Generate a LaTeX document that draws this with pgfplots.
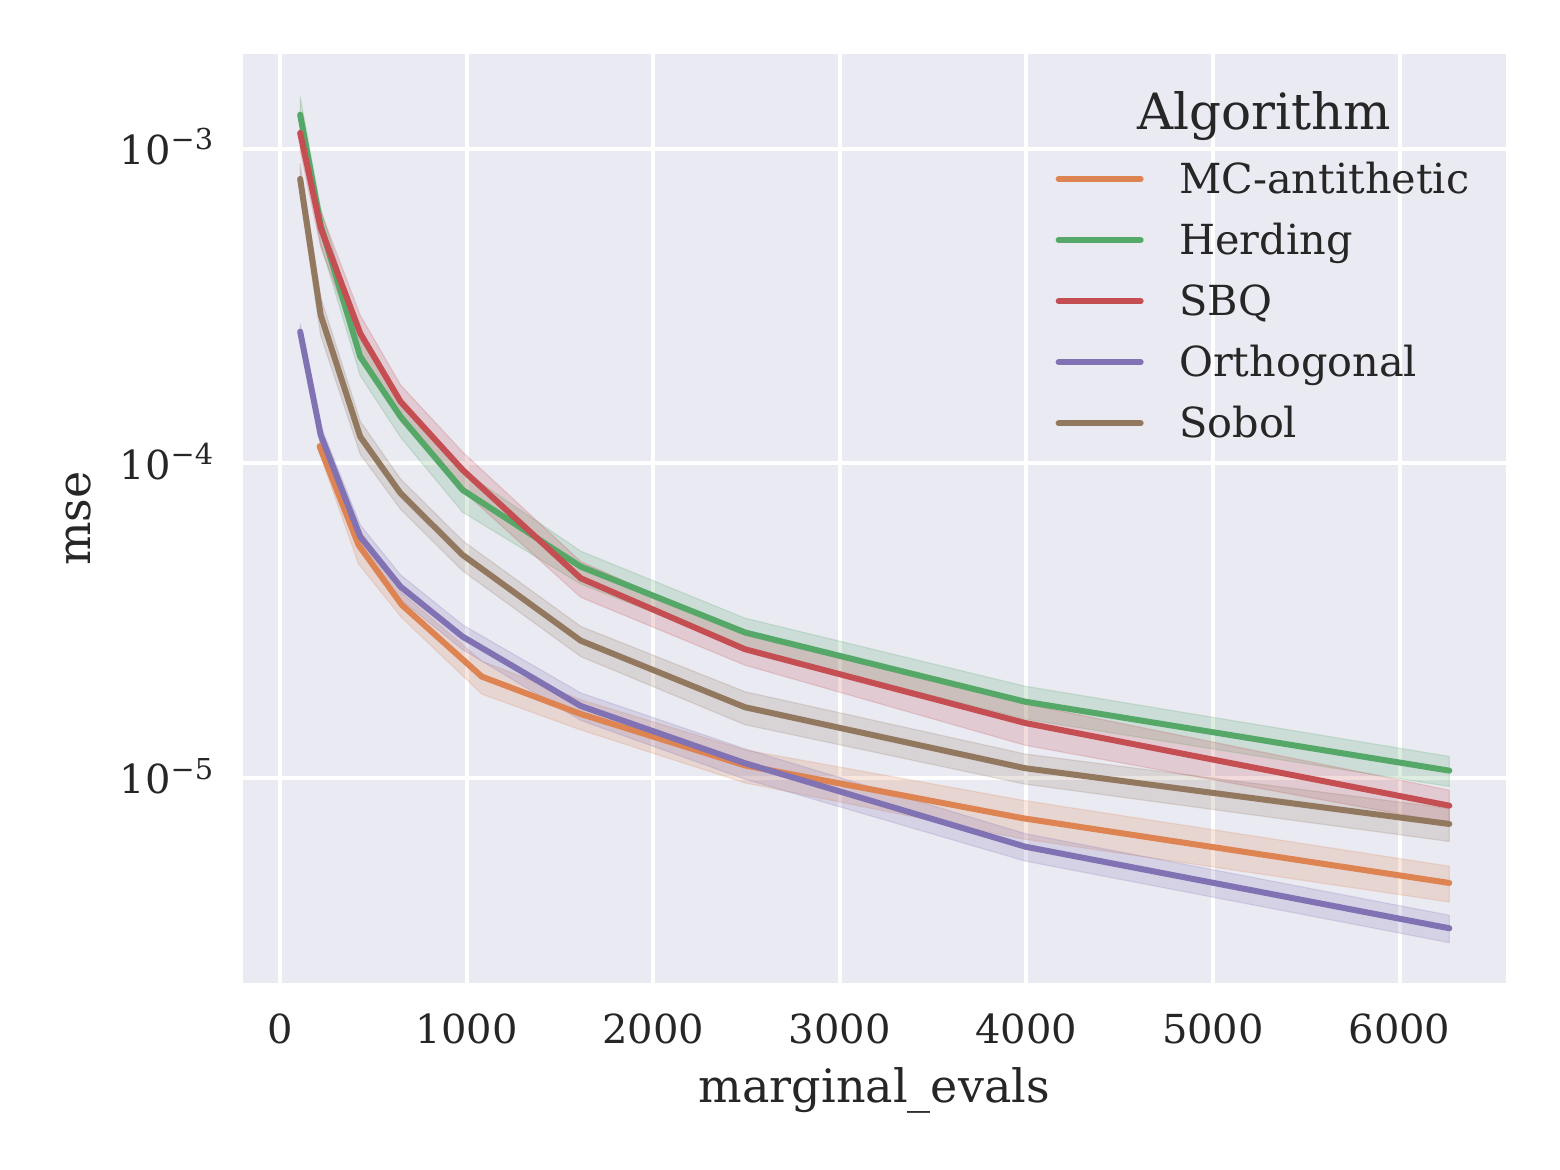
\documentclass[border=0pt]{standalone}
\usepackage{fontspec}
\setmainfont{DejaVu Serif}
\usepackage{pgfplots}
\pgfplotsset{compat=1.18}
\usepackage{pgfplotstable}
\usepgfplotslibrary{fillbetween}
\definecolor{bg}{HTML}{EAEAF2}
\definecolor{txt}{HTML}{262626}
\definecolor{cO}{HTML}{DD8452}
\definecolor{cG}{HTML}{55A868}
\definecolor{cR}{HTML}{C44E52}
\definecolor{cP}{HTML}{8172B3}
\definecolor{cB}{HTML}{937860}

\pgfplotstableread{
x y lo hi
211 1.134e-4 1.077e-4 1.191e-4
420 5.510e-5 4.794e-5 6.226e-5
652 3.554e-5 3.234e-5 3.874e-5
1081 2.104e-5 1.852e-5 2.356e-5
1611 1.601e-5 1.425e-5 1.777e-5
2492 1.099e-5 9.671e-6 1.231e-5
3983 7.468e-6 6.422e-6 8.514e-6
6267 4.654e-6 4.049e-6 5.259e-6
}\tO

\pgfplotstableread{
x y lo hi
107 1.281e-3 1.102e-3 1.460e-3
217 5.719e-4 4.976e-4 6.462e-4
429 2.184e-4 1.900e-4 2.468e-4
645 1.408e-4 1.211e-4 1.605e-4
978 8.237e-5 7.001e-5 9.473e-5
1611 4.703e-5 4.139e-5 5.267e-5
2492 2.906e-5 2.586e-5 3.226e-5
3993 1.752e-5 1.542e-5 1.962e-5
6267 1.058e-5 9.416e-6 1.174e-5
}\tG

\pgfplotstableread{
x y lo hi
107 1.121e-3 9.865e-4 1.256e-3
217 5.596e-4 4.869e-4 6.323e-4
429 2.591e-4 2.228e-4 2.954e-4
645 1.572e-4 1.368e-4 1.776e-4
978 9.537e-5 8.202e-5 1.087e-4
1611 4.319e-5 3.758e-5 4.880e-5
2492 2.570e-5 2.287e-5 2.853e-5
3993 1.499e-5 1.274e-5 1.724e-5
6267 8.190e-6 7.207e-6 9.173e-6
}\tR

\pgfplotstableread{
x y lo hi
107 2.621e-4 2.464e-4 2.778e-4
217 1.232e-4 1.146e-4 1.318e-4
429 5.854e-5 5.327e-5 6.381e-5
645 4.062e-5 3.696e-5 4.428e-5
978 2.818e-5 2.564e-5 3.072e-5
1611 1.698e-5 1.528e-5 1.868e-5
2492 1.117e-5 9.941e-6 1.240e-5
3993 6.070e-6 5.463e-6 6.677e-6
6267 3.342e-6 3.008e-6 3.676e-6
}\tP

\pgfplotstableread{
x y lo hi
107 8.008e-4 7.047e-4 8.969e-4
217 2.962e-4 2.547e-4 3.377e-4
429 1.216e-4 1.070e-4 1.362e-4
645 8.043e-5 7.158e-5 8.928e-5
978 5.122e-5 4.559e-5 5.685e-5
1611 2.737e-5 2.436e-5 3.038e-5
2492 1.682e-5 1.480e-5 1.884e-5
3993 1.077e-5 9.585e-6 1.195e-5
6267 7.164e-6 6.304e-6 8.024e-6
}\tB

\newcommand{\sexp}[1]{10\raisebox{3.7pt}{\fontsize{7.2}{8}\selectfont −#1}}

\begin{document}
\begin{tikzpicture}
\begin{axis}[
  scale only axis, width=315.825pt, height=232.325pt,
  xmin=-201, xmax=6571,
  ymode=log, ymin=2.235e-6, ymax=1.997e-3,
  no markers,
  axis background/.style={fill=bg},
  axis line style={draw=none},
  major tick length=0pt, minor tick length=0pt,
  grid=major, grid style={white, line width=1pt},
  xtick={0,1000,2000,3000,4000,5000,6000},
  xticklabels={0,1000,2000,3000,4000,5000,6000},
  ytick={1e-5,1e-4,1e-3}, minor ytick={},
  yticklabels={{\sexp{5}},{\sexp{4}},{\sexp{3}}},
  x tick label style={font=\fontsize{10}{12}\selectfont, text=txt, inner sep=0pt, anchor=base, yshift=-15pt},
  y tick label style={font=\fontsize{10}{12}\selectfont, text=txt, inner sep=0pt, anchor=base east, xshift=-7.2pt, yshift=-3.9pt},
  xlabel={marginal\_evals},
  ylabel={mse},
  xlabel style={at={([yshift=-29.9pt]axis description cs:0.5,0)}, anchor=base, font=\fontsize{11.5}{14}\selectfont, text=txt, inner sep=0pt},
  ylabel style={at={([xshift=-38.1pt]axis description cs:0,0.5)}, anchor=base, font=\fontsize{11.5}{14}\selectfont, text=txt, inner sep=0pt},
  legend cell align=left,
  legend style={at={(0.6435,0.8810)}, anchor=north west, draw=none, fill=none,
    inner sep=0pt, outer sep=0pt, font=\fontsize{10.35}{12}\selectfont, text=txt,
    row sep=8.07pt, column sep=8.9pt,
    nodes={inner sep=0pt, text height=7.2pt, text depth=0pt}},
  legend image code/.code={\draw[#1, line cap=round] (0pt,0pt) -- (20.5pt,0pt);},
]
% bands
\addplot[draw=none, name path=oU, forget plot] table[x=x, y=hi] {\tO};
\addplot[draw=none, name path=oL, forget plot] table[x=x, y=lo] {\tO};
\addplot[fill=cO, fill opacity=0.2, draw=cO, draw opacity=0.2, line width=0.3pt, forget plot] fill between[of=oU and oL];
\addplot[draw=none, name path=gU, forget plot] table[x=x, y=hi] {\tG};
\addplot[draw=none, name path=gL, forget plot] table[x=x, y=lo] {\tG};
\addplot[fill=cG, fill opacity=0.2, draw=cG, draw opacity=0.2, line width=0.3pt, forget plot] fill between[of=gU and gL];
\addplot[draw=none, name path=rU, forget plot] table[x=x, y=hi] {\tR};
\addplot[draw=none, name path=rL, forget plot] table[x=x, y=lo] {\tR};
\addplot[fill=cR, fill opacity=0.2, draw=cR, draw opacity=0.2, line width=0.3pt, forget plot] fill between[of=rU and rL];
\addplot[draw=none, name path=pU, forget plot] table[x=x, y=hi] {\tP};
\addplot[draw=none, name path=pL, forget plot] table[x=x, y=lo] {\tP};
\addplot[fill=cP, fill opacity=0.2, draw=cP, draw opacity=0.2, line width=0.3pt, forget plot] fill between[of=pU and pL];
\addplot[draw=none, name path=bU, forget plot] table[x=x, y=hi] {\tB};
\addplot[draw=none, name path=bL, forget plot] table[x=x, y=lo] {\tB};
\addplot[fill=cB, fill opacity=0.2, draw=cB, draw opacity=0.2, line width=0.3pt, forget plot] fill between[of=bU and bL];
% lines
\addplot[cO, line width=1.5pt, line cap=round, line join=round] table[x=x, y=y] {\tO};
\addlegendentry{MC-antithetic}
\addplot[cG, line width=1.5pt, line cap=round, line join=round] table[x=x, y=y] {\tG};
\addlegendentry{Herding}
\addplot[cR, line width=1.5pt, line cap=round, line join=round] table[x=x, y=y] {\tR};
\addlegendentry{SBQ}
\addplot[cP, line width=1.5pt, line cap=round, line join=round] table[x=x, y=y] {\tP};
\addlegendentry{Orthogonal}
\addplot[cB, line width=1.5pt, line cap=round, line join=round] table[x=x, y=y] {\tB};
\addlegendentry{Sobol}
\node[anchor=base, font=\fontsize{12.5}{15}\selectfont, text=txt, inner sep=0pt] at (rel axis cs:0.8084,0.9182) {Algorithm};
\end{axis}
\pgfresetboundingbox
\path ([shift={(-60.675pt,-46.675pt)}]current axis.south west) rectangle ([shift={(13.5pt,13.5pt)}]current axis.north east);
\end{tikzpicture}
\end{document}
